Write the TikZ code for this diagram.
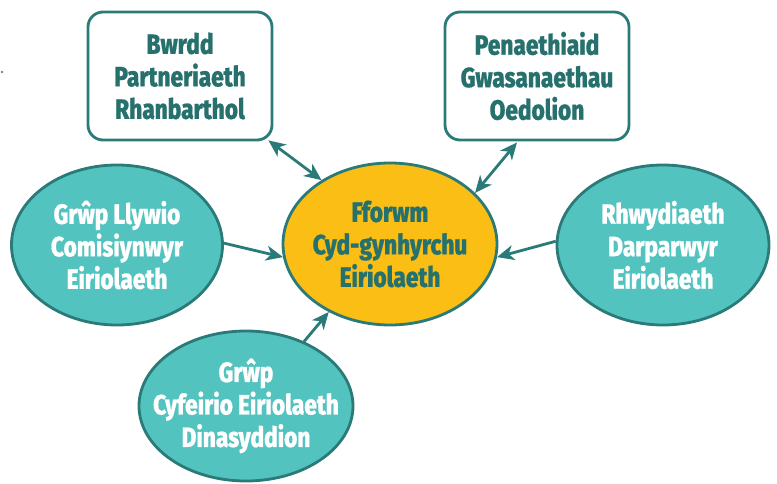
\documentclass[tikz,border=0pt]{standalone}
\usepackage{fontspec}
\newfontfamily\dfont{Fira Sans ExtraBold}[FakeStretch=0.81,FakeBold=0.6]
\usetikzlibrary{arrows.meta,shapes.geometric}
\definecolor{tealline}{HTML}{2A7A77}
\definecolor{tealtext}{HTML}{26716D}
\definecolor{tealfill}{HTML}{53C3C0}
\definecolor{yellowfill}{HTML}{FBBE14}
\tikzset{
  lbl/.style={font=\dfont\fontsize{28}{32.5}\selectfont, align=center},
  boxnode/.style={lbl, draw=tealline, line width=2.8pt, fill=white, rounded corners=15pt,
    minimum width=184pt, minimum height=128pt, inner sep=0pt, text=tealtext},
  ovalnode/.style={lbl, ellipse, draw=tealline, line width=2.8pt, fill=tealfill, text=white, inner xsep=-25pt, inner ysep=-10pt},
  hubnode/.style={lbl, ellipse, draw=tealline, line width=2.8pt, fill=yellowfill, text=tealtext, inner xsep=-25pt, inner ysep=-10pt},
  link/.style={draw=tealline, line width=2.8pt},
  tip/.tip={Stealth[length=17pt,width=15pt,inset=5pt]},
}
\begin{document}
\begin{tikzpicture}[x=1pt,y=-1pt]
\useasboundingbox (0,0) rectangle (777,484);
\fill[gray] (2,72) circle (1.3pt);
\node[boxnode] (b1) at (180,76) {Bwrdd\\Partneriaeth\\Rhanbarthol};
\node[boxnode] (b2) at (537,76) {Penaethiaid\\Gwasanaethau\\Oedolion};
\node[hubnode, minimum width=214pt, minimum height=162pt] (c) at (390,244) {Fforwm\\Cyd-gynhyrchu\\Eiriolaeth};
\node[ovalnode, minimum width=211pt, minimum height=160pt] (l) at (117,245) {Grŵp Llywio\\Comisiynwyr\\Eiriolaeth};
\node[ovalnode, minimum width=212pt, minimum height=160pt] (r) at (663,245) {Rhwydiaeth\\Darparwyr\\Eiriolaeth};
\node[ovalnode, minimum width=214pt, minimum height=150pt] (b) at (246,406) {Grŵp\\Cyfeirio Eiriolaeth\\Dinasyddion};
\draw[link, {tip}-{tip}] ([xshift=-5pt,yshift=1pt]b1.south east) -- (c.137);
\draw[link, {tip}-{tip}] ([xshift=-20pt,yshift=-1pt]b2.south) -- (c.31);
\draw[link, -{tip}] (l.1) -- (c.187);
\draw[link, -{tip}] (r.178) -- (c.353);
\draw[link, -{tip}] (b.48) -- (c.228);
\end{tikzpicture}
\end{document}
